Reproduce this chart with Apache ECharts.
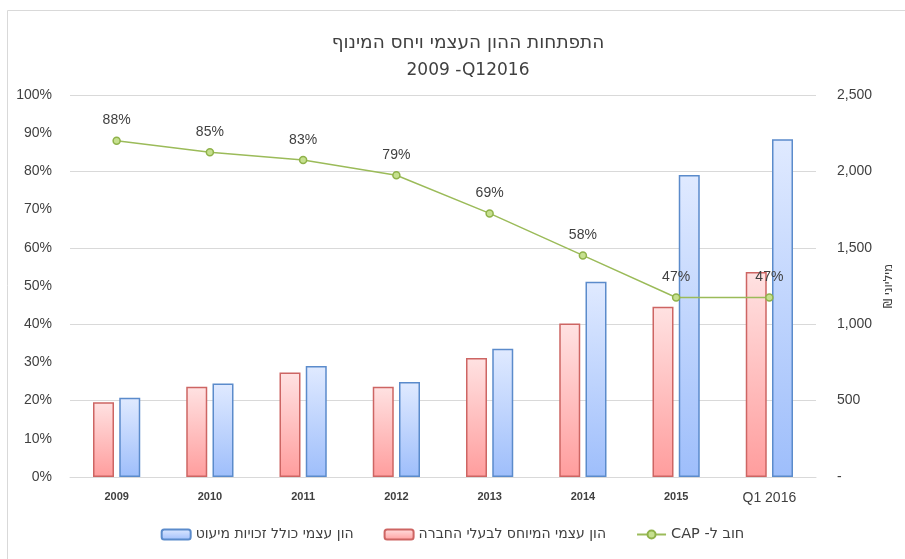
<!DOCTYPE html>
<html>
<head>
<meta charset="utf-8">
<script src="https://cdn.jsdelivr.net/npm/echarts@6/dist/echarts.min.js"></script>
<style>
  html, body { margin: 0; padding: 0; background: #fff; }
  #chart { width: 905px; height: 559px; }
</style>
</head>
<body>
<div id="chart"></div>
<script>
var categories = ['2009', '2010', '2011', '2012', '2013', '2014', '2015', 'Q1 2016'];
// הון עצמי המיוחס לבעלי החברה (מיליוני ש"ח)
var equityOwners = [490, 590, 684, 590, 778, 1004, 1115, 1342];
// הון עצמי כולל זכויות מיעוט (מיליוני ש"ח)
var equityTotal = [518, 612, 727, 621, 839, 1278, 1976, 2211];
// חוב ל- CAP
var debtToCap = [0.88, 0.85, 0.83, 0.79, 0.69, 0.58, 0.47, 0.47];

var nameOwners = 'הון עצמי המיוחס לבעלי החברה';
var nameTotal = 'הון עצמי כולל זכויות מיעוט';
var nameCap = 'CAP -חוב ל'; // logical order so it shows as "חוב ל- CAP"

var font = '"Liberation Sans", Arial, sans-serif';
var hebFont = '"DejaVu Sans", sans-serif';
var txt = '#404040';

function grad(top, bottom) {
    return new echarts.graphic.LinearGradient(0, 0, 0, 1, [
        {offset: 0, color: top},
        {offset: 1, color: bottom}
    ]);
}

var option = {
    animation: false,
    textStyle: {fontFamily: font},
    graphic: [{
        type: 'rect',
        shape: {x: 7.5, y: 10.5, width: 1000, height: 1000},
        style: {fill: 'none', stroke: '#d9d9d9', lineWidth: 1},
        silent: true
    }],
    title: {
        text: '{a|התפתחות ההון העצמי ויחס המינוף}\n{b|2009 -Q12016}',
        left: 468,
        textAlign: 'center',
        top: 29,
        padding: 0,
        textStyle: {
            color: txt,
            fontWeight: 'normal',
            rich: {
                a: {fontSize: 18.5, lineHeight: 28, color: txt, fontFamily: hebFont},
                b: {fontSize: 17, lineHeight: 28, color: txt, fontFamily: hebFont}
            }
        }
    },
    legend: {
        bottom: 12,
        left: 'center',
        data: [nameTotal, nameOwners, nameCap],
        itemWidth: 29,
        itemHeight: 10,
        itemGap: 30,
        formatter: function (n) {
            return n === nameCap ? '{c|' + n + '}' : '{h|' + n + '}';
        },
        textStyle: {
            color: txt,
            rich: {
                h: {fontSize: 14, color: txt, fontFamily: hebFont},
                c: {fontSize: 14.5, color: txt, fontFamily: hebFont}
            }
        }
    },
    grid: {
        left: 70,
        right: 89,
        top: 95,
        bottom: 82
    },
    xAxis: {
        type: 'category',
        data: categories,
        axisLine: {lineStyle: {color: '#d9d9d9'}},
        axisTick: {show: false},
        axisLabel: {
            margin: 14,
            color: txt,
            formatter: function (v) {
                return v === 'Q1 2016' ? '{q|' + v + '}' : '{y|' + v + '}';
            },
            rich: {
                y: {fontSize: 11, fontWeight: 'bold', color: txt, fontFamily: font},
                q: {fontSize: 14, color: txt, fontFamily: font}
            }
        }
    },
    yAxis: [
        {
            type: 'value',
            min: 0,
            max: 1,
            interval: 0.1,
            axisLine: {show: false},
            axisTick: {show: false},
            splitLine: {show: false},
            axisLabel: {
                color: txt,
                fontSize: 14,
                margin: 18,
                formatter: function (v) { return Math.round(v * 100) + '%'; }
            }
        },
        {
            type: 'value',
            min: 0,
            max: 2500,
            interval: 500,
            position: 'right',
            name: '₪ מיליוני',
            nameLocation: 'middle',
            nameRotate: 90,
            nameGap: 58,
            nameTextStyle: {color: txt, fontSize: 12, fontFamily: hebFont},
            axisLine: {show: false},
            axisTick: {show: false},
            splitLine: {lineStyle: {color: '#d9d9d9', width: 1}},
            axisLabel: {
                color: txt,
                fontSize: 14,
                margin: 21,
                formatter: function (v) { return v === 0 ? '-' : v.toLocaleString('en-US'); }
            }
        }
    ],
    series: [
        {
            name: nameOwners,
            type: 'bar',
            yAxisIndex: 1,
            barWidth: 21,
            barGap: '25%',
            data: equityOwners,
            itemStyle: {
                color: grad('#ffe2e2', '#ff9d9d'),
                borderColor: '#cd6563',
                borderWidth: 1.5
            }
        },
        {
            name: nameTotal,
            type: 'bar',
            yAxisIndex: 1,
            barWidth: 21,
            data: equityTotal,
            itemStyle: {
                color: grad('#e0eaff', '#9ebefb'),
                borderColor: '#5b8bcb',
                borderWidth: 1.5
            }
        },
        {
            name: nameCap,
            type: 'line',
            yAxisIndex: 0,
            z: 5,
            data: debtToCap,
            symbol: 'circle',
            symbolSize: 7,
            lineStyle: {color: '#9bbb59', width: 1.5},
            itemStyle: {color: '#c6e08f', borderColor: '#8fb24a', borderWidth: 1.5},
            label: {
                show: true,
                position: 'top',
                distance: 9,
                color: txt,
                fontSize: 14,
                fontFamily: font,
                formatter: function (p) { return Math.round(p.value * 100) + '%'; }
            }
        }
    ]
};

var myChart = echarts.init(document.getElementById('chart'));
myChart.setOption(option);
</script>
</body>
</html>
